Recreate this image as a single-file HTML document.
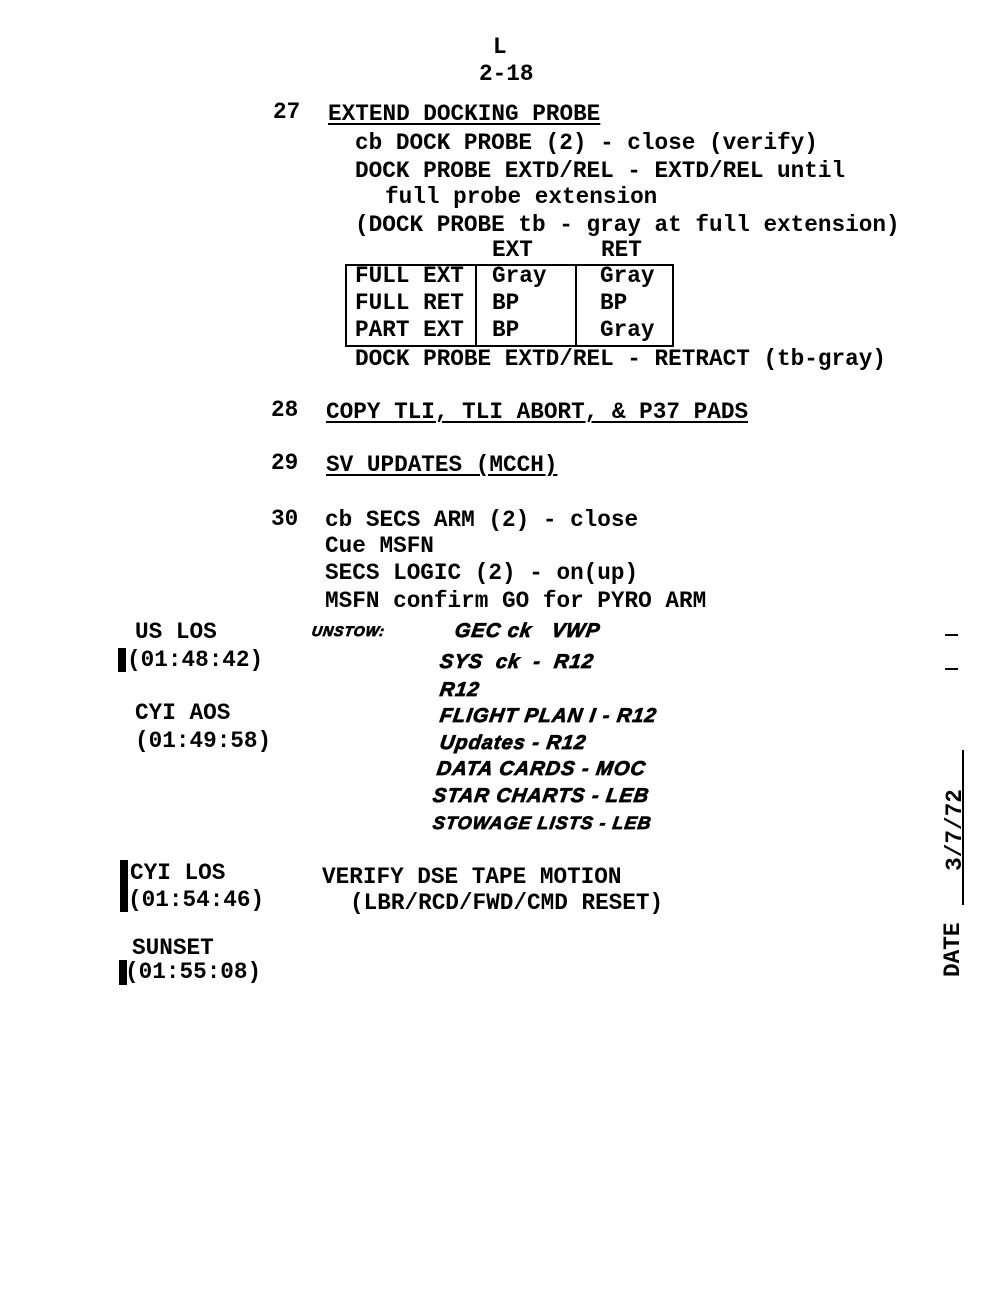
<!DOCTYPE html>
<html><head><meta charset="utf-8"><style>
body{margin:0;background:#fff;}
#p{position:relative;width:1000px;height:1300px;background:#fff;overflow:hidden;font-family:"Liberation Mono",monospace;font-size:22.7px;font-weight:bold;color:#000;}
.t{position:absolute;white-space:pre;line-height:24px;}
.u{text-decoration:underline;text-decoration-thickness:2px;text-underline-offset:3px;}
.h{position:absolute;white-space:pre;font-family:"Liberation Sans",sans-serif;font-style:italic;font-weight:bold;font-size:20px;line-height:22px;letter-spacing:1px;transform:skewX(-8deg);-webkit-text-stroke:0.8px #000;}
.b{position:absolute;background:#000;}
</style></head><body><div id="p">
<div class="t" style="left:493px;top:35px">L</div>
<div class="t" style="left:479px;top:62px">2-18</div>
<div class="t" style="left:273px;top:100px">27</div>
<div class="t u" style="left:328px;top:102px">EXTEND DOCKING PROBE</div>
<div class="t" style="left:355px;top:131px">cb DOCK PROBE (2) - close (verify)</div>
<div class="t" style="left:355px;top:159px">DOCK PROBE EXTD/REL - EXTD/REL until</div>
<div class="t" style="left:385px;top:185px">full probe extension</div>
<div class="t" style="left:355px;top:213px">(DOCK PROBE tb - gray at full extension)</div>
<div class="t" style="left:492px;top:238px">EXT</div>
<div class="t" style="left:601px;top:238px">RET</div>
<div style="position:absolute;left:345px;top:264px;width:325px;height:79px;border:2px solid #000;"></div>
<div class="b" style="left:475px;top:264px;width:2px;height:82px"></div>
<div class="b" style="left:575px;top:264px;width:2px;height:82px"></div>
<div class="t" style="left:355px;top:264px">FULL EXT</div>
<div class="t" style="left:492px;top:264px">Gray</div>
<div class="t" style="left:600px;top:264px">Gray</div>
<div class="t" style="left:355px;top:291px">FULL RET</div>
<div class="t" style="left:492px;top:291px">BP</div>
<div class="t" style="left:600px;top:291px">BP</div>
<div class="t" style="left:355px;top:318px">PART EXT</div>
<div class="t" style="left:492px;top:318px">BP</div>
<div class="t" style="left:600px;top:318px">Gray</div>
<div class="t" style="left:355px;top:347px">DOCK PROBE EXTD/REL - RETRACT (tb-gray)</div>
<div class="t" style="left:271px;top:398px">28</div>
<div class="t u" style="left:326px;top:400px">COPY TLI, TLI ABORT, &amp; P37 PADS</div>
<div class="t" style="left:271px;top:451px">29</div>
<div class="t u" style="left:326px;top:453px">SV UPDATES (MCCH)</div>
<div class="t" style="left:271px;top:507px">30</div>
<div class="t" style="left:325px;top:508px">cb SECS ARM (2) - close</div>
<div class="t" style="left:325px;top:534px">Cue MSFN</div>
<div class="t" style="left:325px;top:561px">SECS LOGIC (2) - on(up)</div>
<div class="t" style="left:325px;top:589px">MSFN confirm GO for PYRO ARM</div>
<div class="t" style="left:135px;top:620px">US LOS</div>
<div class="b" style="left:118px;top:648px;width:8px;height:24px"></div>
<div class="t" style="left:127px;top:648px">(01:48:42)</div>
<div class="t" style="left:135px;top:701px">CYI AOS</div>
<div class="t" style="left:135px;top:729px">(01:49:58)</div>
<div class="h" style="left:312px;top:620px;font-size:14px">UNSTOW:</div>
<div class="h" style="left:455px;top:620px">GEC ck &nbsp;&nbsp;VWP</div>
<div class="h" style="left:440px;top:651px">SYS &nbsp;ck &nbsp;- &nbsp;R12</div>
<div class="h" style="left:440px;top:679px">R12</div>
<div class="h" style="left:440px;top:705px">FLIGHT PLAN I - R12</div>
<div class="h" style="left:440px;top:732px">Updates - R12</div>
<div class="h" style="left:437px;top:758px">DATA CARDS - MOC</div>
<div class="h" style="left:433px;top:785px">STAR CHARTS - LEB</div>
<div class="h" style="left:433px;top:812px;font-size:18px">STOWAGE LISTS - LEB</div>
<div class="b" style="left:120px;top:860px;width:8px;height:52px"></div>
<div class="t" style="left:130px;top:861px">CYI LOS</div>
<div class="t" style="left:128px;top:888px">(01:54:46)</div>
<div class="t" style="left:322px;top:865px">VERIFY DSE TAPE MOTION</div>
<div class="t" style="left:350px;top:891px">(LBR/RCD/FWD/CMD RESET)</div>
<div class="t" style="left:132px;top:936px">SUNSET</div>
<div class="b" style="left:119px;top:960px;width:8px;height:25px"></div>
<div class="t" style="left:125px;top:960px">(01:55:08)</div>
<div class="b" style="left:945px;top:634px;width:13px;height:2px"></div>
<div class="b" style="left:945px;top:668px;width:13px;height:2px"></div>
<div class="b" style="left:962px;top:750px;width:2px;height:155px"></div>
<div class="t" style="left:893px;top:905px;transform:rotate(-90deg);transform-origin:center;width:120px;text-align:left">DATE</div>
<div class="t" style="left:895px;top:818px;transform:rotate(-90deg);transform-origin:center;width:120px;text-align:center">3/7/72</div>
</div></body></html>
